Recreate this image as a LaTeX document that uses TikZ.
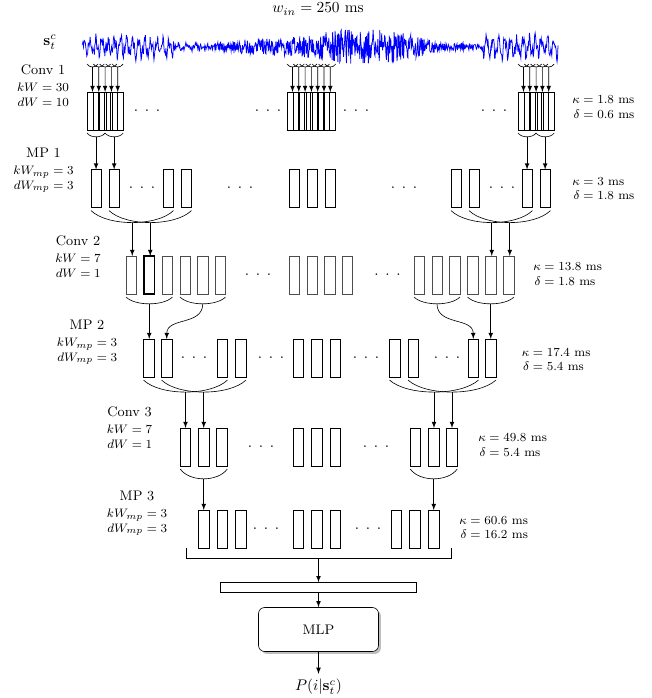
\documentclass[tikz,border=0pt]{standalone}
\usepackage{tikz}
\usepackage{amsmath}
\usetikzlibrary{positioning,calc,shadows}

\newcommand{\gapdots}{${\cdot}\;\,{\cdot}\;\,{\cdot}$}
\newcommand{\params}[4]{$\begin{array}[t]{@{}r@{\;=\;}l@{}}#1&#2\\#3&#4\end{array}$}
\newcommand{\infoarr}[4]{$\begin{array}{@{}r@{\;=\;}l@{}}#1&#2\\#3&#4\end{array}$}
\newcommand{\poolarc}[4]{\draw #1 .. controls ($#1!0.2!#2+(0,#3)$) and ($#1!0.8!#2+(0,#3)$) .. #2 node[coordinate,pos=0.5] (#4) {};}

\begin{document}
\begin{tikzpicture}[x=0.65pt, y=-0.65pt, >=latex]
      \tikzstyle{every node}=[font=\footnotesize]
      \tikzstyle{mapcell}=[draw, inner sep=0pt, outer sep=0pt, minimum width=6.8pt, minimum height=24.7pt]
      \tikzstyle{kernwin}=[mapcell, minimum width=7.15pt]
      \tikzstyle{convcell}=[mapcell, draw=black!70]
      \tikzstyle{lbl}=[align=center, inner sep=0pt, font=\small]
      \tikzstyle{info}=[anchor=west, inner sep=0pt]
      \tikzstyle{gap}=[inner sep=0pt, font=\normalsize]

      \useasboundingbox (0,0) rectangle (652,698);

      % input signal
      \node[font=\normalsize] (win) at (318,9) {$w_{in} = 250$ ms};
      \node[font=\normalsize] (sig) at (50,42) {$\mathbf{s}_t^c$};
      \pgfmathsetseed{4711}
      \draw[blue, line width=0.5pt] plot[domain=82:558, samples=1000, variable=\t]
        (\t, {47 + ((\t<175 || \t>482) ? (7*sin(360*frac(\t/6.1))+3.5*sin(360*frac(\t/2.6))) : 0)
              + ((\t>=175 && \t<200) ? 2.5*sin(360*frac(\t/9)) : 0)
              + (2 + ((\t<175 || \t>482) ? 3 : 0)
                 + 15/(1+((\t-365)/55)*((\t-365)/55)*((\t-365)/55)*((\t-365)/55))
                 + 5/(1+((\t-265)/45)*((\t-265)/45)*((\t-265)/45)*((\t-265)/45)))*rand});

      % layer names
      \node[lbl] (conv1) at (43,88) {Conv 1\\ {\footnotesize\params{kW}{30}{dW}{10}}};
      \node[lbl] (mp1) at (43.5,171) {MP 1\\ {\footnotesize\params{kW_{mp}}{3}{dW_{mp}}{3}}};
      \node[lbl] (conv2) at (78,259) {Conv 2\\ {\footnotesize\params{kW}{7}{dW}{1}}};
      \node[lbl] (mp2) at (87,343) {MP 2\\ {\footnotesize\params{kW_{mp}}{3}{dW_{mp}}{3}}};
      \node[lbl] (conv3) at (129.5,430) {Conv 3\\ {\footnotesize\params{kW}{7}{dW}{1}}};
      \node[lbl] (mp3) at (137,514) {MP 3\\ {\footnotesize\params{kW_{mp}}{3}{dW_{mp}}{3}}};

      % receptive fields
      \node[info] (rf1) at (572,108) {\infoarr{\kappa}{1.8\ \mathrm{ms}}{\delta}{0.6\ \mathrm{ms}}};
      \node[info] (rf2) at (572,189.5) {\infoarr{\kappa}{3\ \mathrm{ms}}{\delta}{1.8\ \mathrm{ms}}};
      \node[info] (rf3) at (533,275) {\infoarr{\kappa}{13.8\ \mathrm{ms}}{\delta}{1.8\ \mathrm{ms}}};
      \node[info] (rf4) at (521.5,360.5) {\infoarr{\kappa}{17.4\ \mathrm{ms}}{\delta}{5.4\ \mathrm{ms}}};
      \node[info] (rf5) at (478,446) {\infoarr{\kappa}{49.8\ \mathrm{ms}}{\delta}{5.4\ \mathrm{ms}}};
      \node[info] (rf6) at (459,528.5) {\infoarr{\kappa}{60.6\ \mathrm{ms}}{\delta}{16.2\ \mathrm{ms}}};

      % Conv 1 windows
      \foreach \g/\x/\n in {L/87/5, M/287/7, R/518/5} {
        \foreach \i in {1,...,\n} {
          \node[kernwin] (c1\g-\i) at ({\x+5.5+6.3*(\i-1)},111) {};
          \draw ([yshift=18.2pt]c1\g-\i.north west) .. controls +(2.5,4) and +(-2.5,4) .. ([yshift=18.2pt]c1\g-\i.north east) node[coordinate,pos=0.5] (t\g-\i) {};
          \draw[->] (t\g-\i) -- (c1\g-\i.north);
        }
      }
      \coordinate (c1L-a) at ([yshift=-2pt]c1L-1.south west);
      \coordinate (c1L-b) at ([yshift=-2pt]c1L-5.south east);
      \coordinate (c1L-m) at ($(c1L-a)!0.5!(c1L-b)$);
      \coordinate (c1R-a) at ([yshift=-2pt]c1R-1.south west);
      \coordinate (c1R-b) at ([yshift=-2pt]c1R-5.south east);
      \coordinate (c1R-m) at ($(c1R-a)!0.5!(c1R-b)$);
      \poolarc{(c1L-a)}{(c1L-m)}{5}{k1}
      \poolarc{(c1L-m)}{(c1L-b)}{5}{k2}
      \poolarc{(c1R-a)}{(c1R-m)}{5}{k3}
      \poolarc{(c1R-m)}{(c1R-b)}{5}{k4}

      % MP 1
      \foreach \x [count=\i] in {91,109,163,181,289,307,325,451,469,522,540}
        \node[mapcell] (m1-\i) at (\x+5.25,188.5) {};
      \draw[->] (k1) -- (k1 |- m1-1.north);
      \draw[->] (k2) -- (k2 |- m1-2.north);
      \draw[->] (k3) -- (k3 |- m1-10.north);
      \draw[->] (k4) -- (k4 |- m1-11.north);
      \poolarc{([yshift=-2pt]m1-1.south west)}{([yshift=-2pt]m1-3.south east)}{16}{p1}
      \poolarc{([yshift=-2pt]m1-2.south west)}{([yshift=-2pt]m1-4.south east)}{16}{p2}
      \poolarc{([yshift=-2pt]m1-8.south west)}{([yshift=-2pt]m1-10.south east)}{16}{p3}
      \poolarc{([yshift=-2pt]m1-9.south west)}{([yshift=-2pt]m1-11.south east)}{16}{p4}

      % Conv 2
      \foreach \x [count=\i] in {126,144,162,180,197.5,215,289,307,324.5,342,414,432,449.5,467.5,485.5,503.5}
        \node[convcell] (c2-\i) at (\x+5.25,275) {};
      \draw[line width=0.7pt] (c2-2.south west) rectangle (c2-2.north east);
      \draw[->] (p1) -- (p1 |- c2-1.north);
      \draw[->] (p2) -- (p2 |- c2-2.north);
      \draw[->] (p3) -- (p3 |- c2-15.north);
      \draw[->] (p4) -- (p4 |- c2-16.north);
      \poolarc{([yshift=-2pt]c2-1.south west)}{([yshift=-2pt]c2-3.south east)}{9}{q1}
      \poolarc{([yshift=-2pt]c2-4.south west)}{([yshift=-2pt]c2-6.south east)}{9}{q2}
      \poolarc{([yshift=-2pt]c2-11.south west)}{([yshift=-2pt]c2-13.south east)}{9}{q3}
      \poolarc{([yshift=-2pt]c2-14.south west)}{([yshift=-2pt]c2-16.south east)}{9}{q4}

      % MP 2
      \foreach \x [count=\i] in {143.5,161.5,217,235.5,293,311.5,330,389.5,408,468,485.5}
        \node[mapcell] (m2-\i) at (\x+5.25,358) {};
      \draw[->] (q1) -- (q1 |- m2-1.north);
      \draw[->] (q2) .. controls +(0,22) and +(0,-22) .. (m2-2.north);
      \draw[->] (q3) .. controls +(0,22) and +(0,-22) .. (m2-10.north);
      \draw[->] (q4) -- (q4 |- m2-11.north);
      \poolarc{([yshift=-2pt]m2-1.south west)}{([yshift=-2pt]m2-3.south east)}{16}{r1}
      \poolarc{([yshift=-2pt]m2-2.south west)}{([yshift=-2pt]m2-4.south east)}{16}{r2}
      \poolarc{([yshift=-2pt]m2-8.south west)}{([yshift=-2pt]m2-10.south east)}{16}{r3}
      \poolarc{([yshift=-2pt]m2-9.south west)}{([yshift=-2pt]m2-11.south east)}{16}{r4}

      % Conv 3
      \foreach \x [count=\i] in {180.25,198.5,216.75,293,311.5,330,410.25,428.75,446.75}
        \node[mapcell] (c3-\i) at (\x+5.25,447) {};
      \draw[->] (r1) -- (r1 |- c3-1.north);
      \draw[->] (r2) -- (r2 |- c3-2.north);
      \draw[->] (r3) -- (r3 |- c3-8.north);
      \draw[->] (r4) -- (r4 |- c3-9.north);
      \poolarc{([yshift=-2pt]c3-1.south west)}{([yshift=-2pt]c3-3.south east)}{13}{s1}
      \poolarc{([yshift=-2pt]c3-7.south west)}{([yshift=-2pt]c3-9.south east)}{13}{s2}

      % MP 3
      \foreach \x [count=\i] in {198.5,217,235.5,293,311.5,330,391,409.5,428.5}
        \node[mapcell] (m3-\i) at (\x+5.25,529) {};
      \draw[->] (s1) -- (s1 |- m3-1.north);
      \draw[->] (s2) -- (s2 |- m3-9.north);

      % gaps
      \foreach \x/\y [count=\i] in {147/111, 268/111, 356/111, 494/111,
          142/188.5, 240/188.5, 404/188.5, 502/188.5,
          258/275, 387.5/275,
          194/358, 271/358, 366/358, 447/358,
          261/447, 376/447,
          266/529, 368/529}
        \node[gap] (gap-\i) at (\x,\y) {\gapdots};

      % flatten and classifier
      \node[draw, inner sep=0pt, minimum width=127.4pt, minimum height=6.5pt] (flat) at (318.5,587.5) {};
      \draw ([xshift=-8pt]m3-1.south west) -- ++(0,10) coordinate (bl) -| ([xshift=8pt]m3-9.south east);
      \draw[->] (flat.north |- bl) -- (flat.north);
      \node[draw, fill=white, rounded corners=4pt, minimum width=78pt, minimum height=28.6pt, font=\small,
            drop shadow={shadow xshift=1.6pt, shadow yshift=-1.6pt, fill=black!50}] (mlp) at (318.5,629.5) {MLP};
      \draw[->] (flat) -- (mlp);
      \node[font=\normalsize] (out) at (318.5,687) {$P(i|\mathbf{s}_t^c)$};
      \draw[->] (mlp) -- (out);

\end{tikzpicture}
\end{document}
